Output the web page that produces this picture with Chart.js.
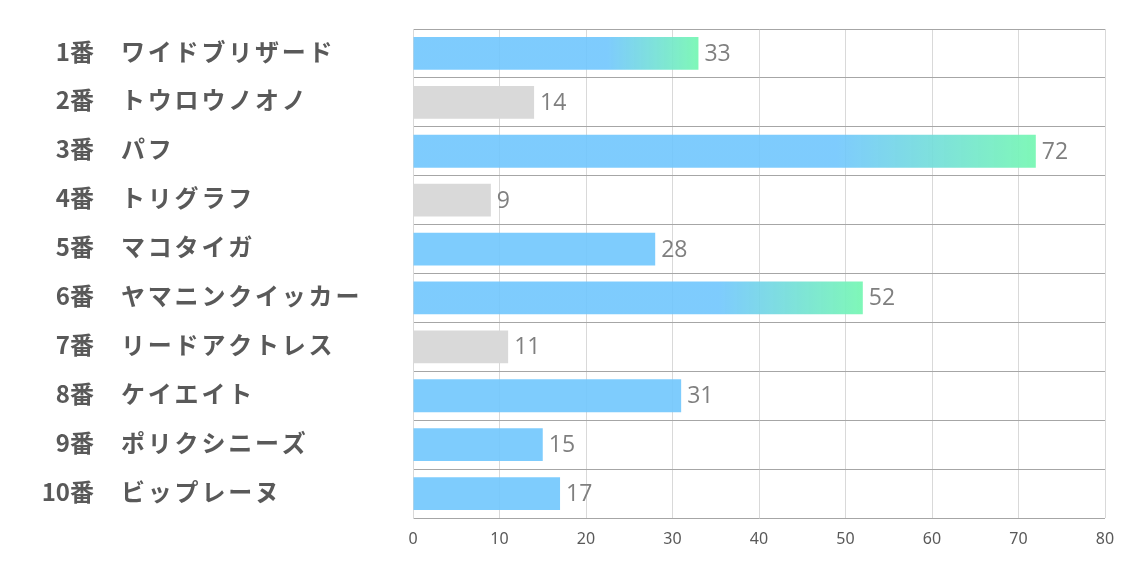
<!DOCTYPE html>
<html>
<head>
<meta charset="utf-8">
<script src="https://cdn.jsdelivr.net/npm/chart.js@4"></script>
<style>
  html, body { margin: 0; padding: 0; background: #fff; }
  #wrap { width: 1134px; height: 567px; }
</style>
</head>
<body>
<div id="wrap"><canvas id="barChart"></canvas></div>
<script>
// 馬番と馬名
var numbers = ['1番', '2番', '3番', '4番', '5番', '6番', '7番', '8番', '9番', '10番'];
var names = ['ワイドブリザード', 'トウロウノオノ', 'パフ', 'トリグラフ', 'マコタイガ',
             'ヤマニンクイッカー', 'リードアクトレス', 'ケイエイト', 'ポリクシニーズ', 'ビップレーヌ'];
var values = [33, 14, 72, 9, 28, 52, 11, 31, 15, 17];
var xTicks = [0, 10, 20, 30, 40, 50, 60, 70, 80];

// 上位3頭はグラデーション、下位3頭はグレー
var sorted = values.slice().sort(function (a, b) { return a - b; });
var lowLimit = sorted[2];
var highLimit = sorted[sorted.length - 3];

var BLUE = 'rgba(112, 198, 253, 0.9)';
var GREEN = 'rgba(120, 247, 180, 0.95)';
var GRAY = '#d9d9d9';

function barColor(context) {
  var v = context.raw;
  if (v <= lowLimit) return GRAY;
  if (v < highLimit) return BLUE;
  var chart = context.chart;
  if (!chart.chartArea) return BLUE;
  var x = chart.scales.x;
  var x0 = x.getPixelForValue(0);
  var x1 = x.getPixelForValue(v);
  var g = chart.ctx.createLinearGradient(x0, 0, x1, 0);
  g.addColorStop(0, BLUE);
  g.addColorStop(0.68, BLUE);
  g.addColorStop(1, GREEN);
  return g;
}

var labelPlugin = {
  id: 'labelPlugin',
  afterDatasetsDraw: function (chart) {
    var ctx = chart.ctx;
    var yScale = chart.scales.y;
    ctx.save();
    ctx.textBaseline = 'middle';
    // 左側の馬番・馬名
    ctx.fillStyle = '#595959';
    ctx.font = 'bold 24px "Noto Sans CJK JP", sans-serif';
    for (var i = 0; i < names.length; i++) {
      var y = yScale.getPixelForValue(i) - 2;
      ctx.letterSpacing = '0px';
      ctx.textAlign = 'right';
      ctx.fillText(numbers[i], 94, y);
      ctx.letterSpacing = '2.8px';
      ctx.textAlign = 'left';
      ctx.fillText(names[i], 121, y);
    }
    ctx.letterSpacing = '0px';
    // 棒の値
    var meta = chart.getDatasetMeta(0);
    ctx.fillStyle = '#7f7f7f';
    ctx.font = '23px "Open Sans", "Noto Sans", sans-serif';
    ctx.textAlign = 'left';
    meta.data.forEach(function (bar, i) {
      ctx.fillText(String(values[i]), bar.x + 6, bar.y + 1);
    });
    ctx.restore();
  }
};

var ctx = document.getElementById('barChart').getContext('2d');
var myChart = new Chart(ctx, {
  type: 'bar',
  data: {
    labels: names,
    datasets: [{
      data: values,
      backgroundColor: barColor,
      borderWidth: 0,
      categoryPercentage: 0.67,
      barPercentage: 1
    }]
  },
  options: {
    indexAxis: 'y',
    responsive: true,
    maintainAspectRatio: false,
    animation: false,
    layout: { padding: { top: 29, right: 29, left: 0, bottom: 0 } },
    plugins: {
      legend: { display: false },
      tooltip: { enabled: false }
    },
    scales: {
      x: {
        min: 0,
        max: 80,
        afterBuildTicks: function (scale) {
          scale.ticks = xTicks.map(function (v) { return { value: v }; });
        },
        afterFit: function (scale) { scale.height = 49; },
        grid: { color: '#d9d9d9', lineWidth: 1, drawTicks: false },
        border: { display: false },
        ticks: {
          padding: 12,
          color: '#595959',
          font: { family: '"Liberation Sans Narrow", "Noto Sans", sans-serif', size: 16 }
        }
      },
      y: {
        afterFit: function (scale) { scale.width = 413; },
        grid: { offset: true, color: '#a6a6a6', lineWidth: 1, drawTicks: false },
        border: { display: true, color: '#d9d9d9' },
        ticks: { display: false }
      }
    }
  },
  plugins: [labelPlugin]
});
</script>
</body>
</html>
